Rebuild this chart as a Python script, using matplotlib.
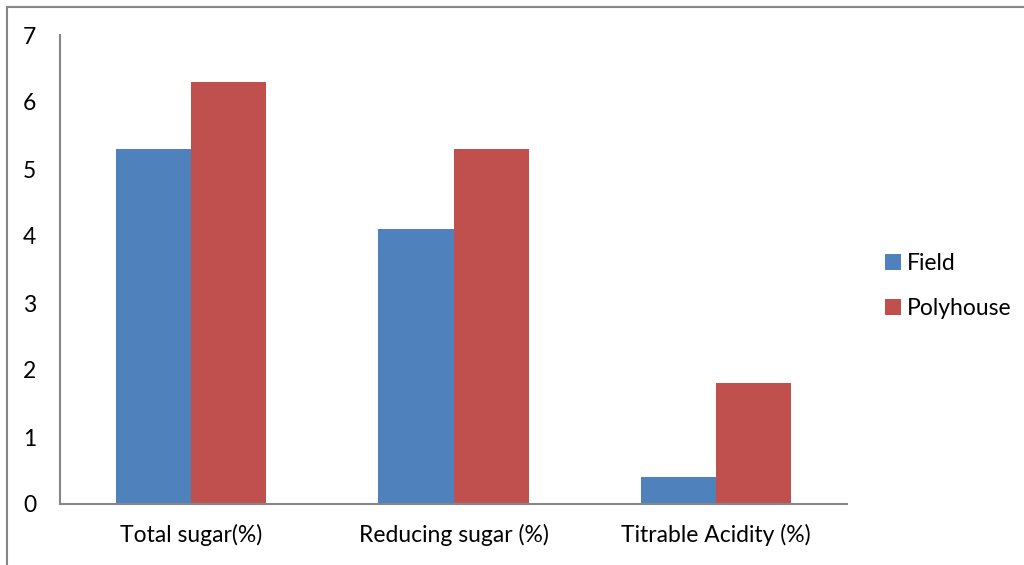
import numpy as np
import matplotlib.pyplot as plt
from matplotlib.patches import Rectangle

categories = ['Total sugar(%)', 'Reducing sugar (%)', 'Titrable Acidity (%)']
field = [5.3, 4.1, 0.4]
polyhouse = [6.3, 5.3, 1.8]

plt.rcParams['font.family'] = ['Lato', 'DejaVu Sans']

fig = plt.figure(figsize=(10.24, 5.65), dpi=100)
ax = fig.add_axes([60 / 1024, 61 / 565, 787 / 1024, 469 / 565])

x = np.arange(len(categories))
w = 0.286
ax.bar(x - w / 2, field, w, color='#4F81BD', label='Field')
ax.bar(x + w / 2, polyhouse, w, color='#C0504D', label='Polyhouse')

ax.set_xlim(-0.5, 2.5)
ax.set_ylim(0, 7)
ax.set_yticks(range(8))
ax.set_xticks(x)
ax.set_xticklabels(categories)
ax.tick_params(length=0, labelsize=16.5)
ax.tick_params(axis='y', pad=17)
ax.tick_params(axis='x', pad=14)
for s in ['top', 'right']:
    ax.spines[s].set_visible(False)
for s in ['left', 'bottom']:
    ax.spines[s].set_color('#868686')
    ax.spines[s].set_linewidth(1.5)

ax.legend(loc='center left', bbox_to_anchor=(1.022, 0.465), frameon=False,
          fontsize=16.5, handlelength=0.7, handleheight=0.7,
          handletextpad=0.25, labelspacing=1.05)

# outer chart border
fig.patches.append(Rectangle((7 / 1024, -0.1), 1.2, (565 - 7) / 565 + 0.1,
                             transform=fig.transFigure, fill=False,
                             edgecolor='#868686', linewidth=1.5))

fig.savefig('out.png', dpi=100)
